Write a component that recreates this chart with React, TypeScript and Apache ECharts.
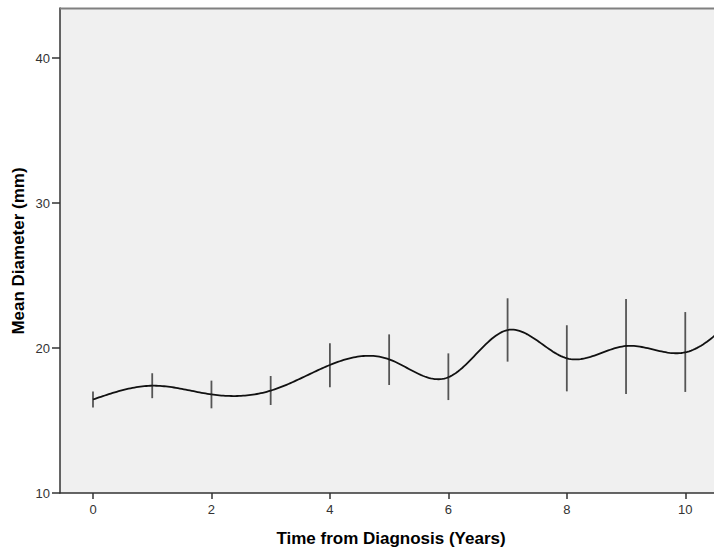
import React, { useEffect, useRef } from "react";
import * as echarts from "echarts";

const years = [0, 1, 2, 3, 4, 5, 6, 7, 8, 9, 10, 11];
const means = [16.45, 17.4, 16.8, 17.06, 18.83, 19.22, 17.98, 21.24, 19.29, 20.14, 19.7, 22.9];
const errYears = [0, 1, 2, 3, 4, 5, 6, 7, 8, 9, 10];
const errLow = [15.9, 16.54, 15.84, 16.07, 17.29, 17.45, 16.41, 19.06, 17.01, 16.83, 16.97];
const errHigh = [17.0, 18.26, 17.75, 18.07, 20.32, 20.94, 19.63, 23.43, 21.57, 23.38, 22.48];
const xTicks = [0, 2, 4, 6, 8, 10];
const yTicks = [10, 20, 30, 40];

// natural cubic spline second derivatives (renders the curve through the means)
function splineM(xs: number[], ys: number[]): number[] {
  const n = xs.length;
  const M = new Array(n).fill(0);
  if (n < 3) return M;
  const a: number[] = [], b: number[] = [], c: number[] = [], d: number[] = [];
  for (let i = 1; i < n - 1; i++) {
    const h0 = xs[i] - xs[i - 1];
    const h1 = xs[i + 1] - xs[i];
    a.push(h0);
    b.push(2 * (h0 + h1));
    c.push(h1);
    d.push(6 * ((ys[i + 1] - ys[i]) / h1 - (ys[i] - ys[i - 1]) / h0));
  }
  const m = b.length;
  for (let i = 1; i < m; i++) {
    const w = a[i] / b[i - 1];
    b[i] -= w * c[i - 1];
    d[i] -= w * d[i - 1];
  }
  const sol = new Array(m).fill(0);
  sol[m - 1] = d[m - 1] / b[m - 1];
  for (let i = m - 2; i >= 0; i--) sol[i] = (d[i] - c[i] * sol[i + 1]) / b[i];
  for (let i = 0; i < m; i++) M[i + 1] = sol[i];
  return M;
}

export default function App() {
  const ref = useRef<HTMLDivElement>(null);
  useEffect(() => {
    document.body.style.margin = "0";
    if (!ref.current) return;
    const chart = echarts.init(ref.current, null, { renderer: "svg" });
    const font = "'Liberation Sans', Arial, sans-serif";
    const M = splineM(years, means);
    chart.setOption({
      animation: false,
      backgroundColor: "#ffffff",
      grid: {
        left: 60,
        top: 8,
        right: 0,
        bottom: 59,
        show: true,
        backgroundColor: "#f0f0f0",
        borderWidth: 0,
        outerBoundsMode: "none",
      },
      xAxis: {
        type: "value",
        min: -0.557,
        max: 10.485,
        splitLine: { show: false },
        axisLine: { show: true, onZero: false, lineStyle: { color: "#333", width: 1.5 } },
        axisTick: { show: true, customValues: xTicks, length: 6, lineStyle: { color: "#333", width: 1.5 } },
        axisLabel: { customValues: xTicks, margin: 10, fontSize: 13, color: "#333", fontFamily: font },
      },
      yAxis: {
        type: "value",
        min: 10,
        max: 43.45,
        interval: 10,
        splitLine: { show: false },
        axisLine: { show: true, onZero: false, lineStyle: { color: "#333", width: 1.5 } },
        axisTick: { show: true, customValues: yTicks, length: 8, lineStyle: { color: "#333", width: 1.5 } },
        axisLabel: { customValues: yTicks, margin: 10, fontSize: 13, color: "#333", fontFamily: font },
      },
      graphic: [
        {
          type: "line",
          shape: { x1: 60, y1: 8.5, x2: 714, y2: 8.5 },
          style: { stroke: "#808080", lineWidth: 2 },
          z: 100,
        },
        {
          type: "text",
          x: 391,
          y: 538,
          style: {
            text: "Time from Diagnosis (Years)",
            fontSize: 17,
            fontWeight: "bold",
            fontFamily: font,
            fill: "#000",
            align: "center",
            verticalAlign: "middle",
          },
        },
        {
          type: "text",
          x: 18.5,
          y: 251,
          rotation: Math.PI / 2,
          style: {
            text: "Mean Diameter (mm)",
            fontSize: 17,
            fontWeight: "bold",
            fontFamily: font,
            fill: "#000",
            align: "center",
            verticalAlign: "middle",
          },
        },
      ],
      series: [
        {
          type: "custom",
          clip: true,
          data: errYears.map((x, i) => [x, errLow[i], errHigh[i]]),
          renderItem: (params: any, api: any) => {
            const p1 = api.coord([api.value(0), api.value(1)]);
            const p2 = api.coord([api.value(0), api.value(2)]);
            return {
              type: "line",
              shape: { x1: p1[0], y1: p1[1], x2: p2[0], y2: p2[1] },
              style: { stroke: "#555", lineWidth: 1.8 },
            };
          },
          z: 2,
        },
        {
          type: "custom",
          clip: true,
          data: years.map((x, i) => [x, means[i]]),
          renderItem: (params: any, api: any) => {
            const i = params.dataIndex;
            if (i >= years.length - 1) return null;
            const x0 = years[i], x1 = years[i + 1];
            const h = x1 - x0;
            const pts: number[][] = [];
            const steps = 30;
            for (let k = 0; k <= steps; k++) {
              const x = x0 + (h * k) / steps;
              const A = (x1 - x) / h;
              const B = (x - x0) / h;
              const y =
                A * means[i] +
                B * means[i + 1] +
                (((A * A * A - A) * M[i] + (B * B * B - B) * M[i + 1]) * h * h) / 6;
              pts.push(api.coord([x, y]));
            }
            return {
              type: "polyline",
              shape: { points: pts },
              style: { stroke: "#111", lineWidth: 1.8, fill: "none" },
            };
          },
          z: 3,
        },
      ],
    });
    return () => chart.dispose();
  }, []);
  return <div ref={ref} style={{ width: 714, height: 552 }} />;
}
